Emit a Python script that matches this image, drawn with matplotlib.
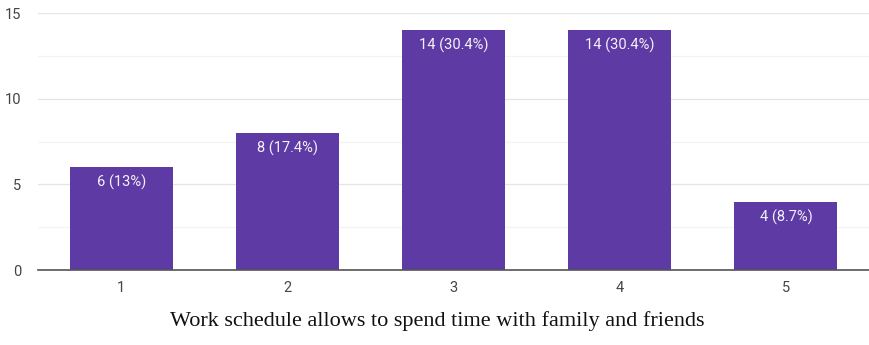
import numpy as np
import matplotlib.pyplot as plt
from matplotlib.ticker import MultipleLocator

options = ['1', '2', '3', '4', '5']
counts = [6, 8, 14, 14, 4]
percents = ['13%', '17.4%', '30.4%', '30.4%', '8.7%']
caption = 'Work schedule allows to spend time with family and friends'

fig = plt.figure(figsize=(8.69, 3.45), dpi=100)
ax = fig.add_axes([0.044, 0.217, 0.956, 0.745])

x = np.arange(len(options))
bars = ax.bar(x, counts, width=0.62, color='#5e3ba4', zorder=3)

for b, c, p in zip(bars, counts, percents):
    ax.annotate(f'{c} ({p})', (b.get_x() + b.get_width() / 2, c),
                xytext=(0, -11), textcoords='offset points',
                ha='center', va='center', color='#f4f2f8', fontsize=10.5,
                family='Roboto')

ax.set_xlim(-0.5, len(options) - 0.5)
ax.set_ylim(0, 15)
ax.set_xticks(x)
ax.set_xticklabels(options)
ax.yaxis.set_major_locator(MultipleLocator(5))
ax.yaxis.set_minor_locator(MultipleLocator(2.5))
ax.grid(axis='y', which='major', color='#e4e4e4', lw=0.9, zorder=0)
ax.grid(axis='y', which='minor', color='#f3f3f3', lw=0.9, zorder=0)

for s in ['top', 'right', 'left']:
    ax.spines[s].set_visible(False)
ax.spines['bottom'].set_color('#555555')
ax.spines['bottom'].set_linewidth(1.2)
ax.spines['bottom'].set_zorder(4)
ax.tick_params(which='both', length=0, colors='#444444', labelsize=10.5)
ax.tick_params(axis='x', pad=8)
ax.tick_params(axis='y', pad=12)
for lab in ax.get_xticklabels() + ax.get_yticklabels():
    lab.set_family('Roboto')

fig.text(0.503, 0.07, caption, ha='center', va='center',
         fontsize=16, family='Liberation Serif', color='#111111')

fig.savefig('out.png', dpi=100)
